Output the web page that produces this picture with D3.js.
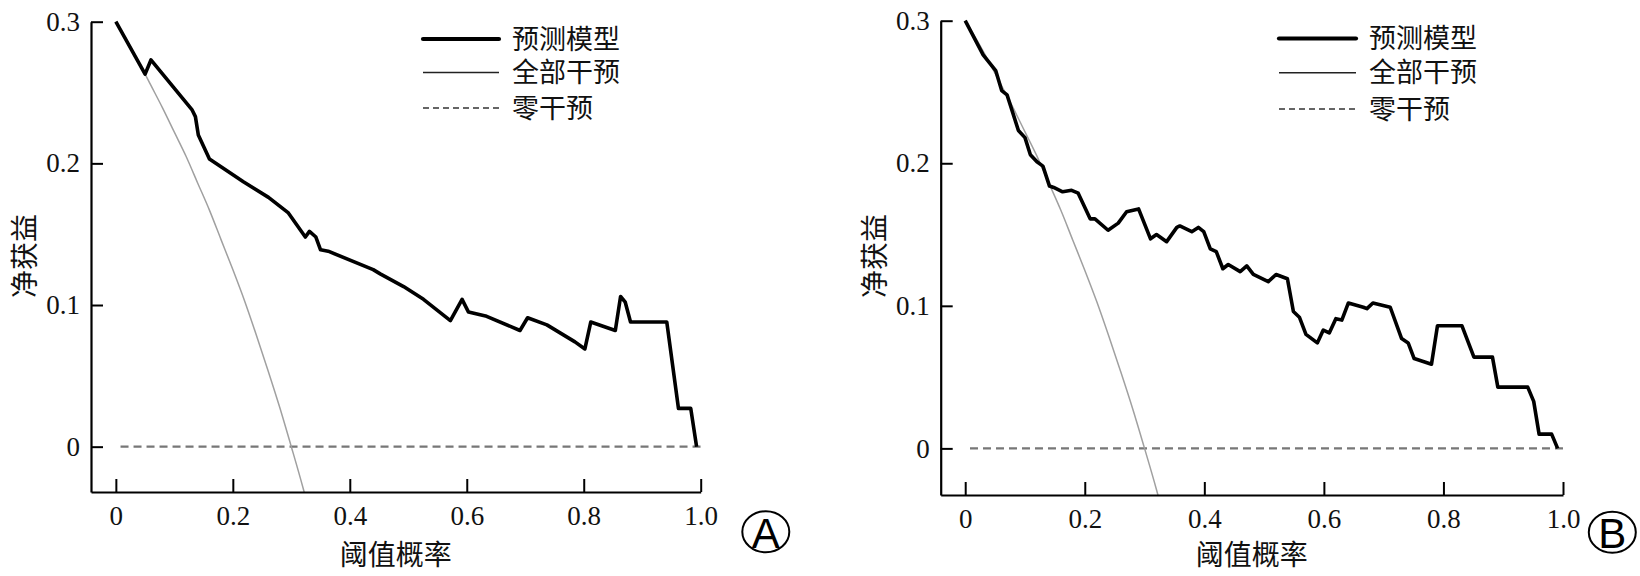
<!DOCTYPE html>
<html>
<head>
<meta charset="utf-8">
<script src="https://cdn.jsdelivr.net/npm/d3@7"></script>
<style>
  html, body { margin: 0; padding: 0; background: #fff; }
  svg { display: block; }
</style>
</head>
<body>
<svg id="chart" width="1640" height="576"></svg>
<script>
  // decision curve data
  const xTicks = [0, 0.2, 0.4, 0.6, 0.8, 1.0];
  const yTicks = [0, 0.1, 0.2, 0.3];
  const legendLabels = ['预测模型', '全部干预', '零干预'];
  const xTitle = '阈值概率';
  const yTitle = '净获益';

  // treat-all curve (same prevalence in both panels)
  const allX = [0, 0.02, 0.04, 0.06, 0.08, 0.10, 0.12, 0.14, 0.16, 0.18, 0.20, 0.22, 0.24, 0.26, 0.28, 0.30, 0.32, 0.34];
  const allY = [0.300, 0.286, 0.271, 0.255, 0.239, 0.222, 0.205, 0.186, 0.167, 0.146, 0.125, 0.103, 0.079, 0.054, 0.028, 0.000, -0.029, -0.061];

  // treat-none
  const noneX = [0.008, 1.0];
  const noneY = [0, 0];

  // panel A model
  const modelAX = [0, 0.050, 0.060, 0.130, 0.136, 0.141, 0.160, 0.218, 0.261, 0.295, 0.324, 0.331, 0.342, 0.350, 0.363, 0.440, 0.452, 0.492, 0.526, 0.572, 0.592, 0.603, 0.634, 0.691, 0.704, 0.737, 0.785, 0.802, 0.812, 0.854, 0.863, 0.871, 0.880, 0.942, 0.962, 0.983, 0.993];
  const modelAY = [0.300, 0.263, 0.273, 0.238, 0.233, 0.220, 0.203, 0.187, 0.176, 0.165, 0.148, 0.152, 0.148, 0.139, 0.138, 0.125, 0.122, 0.113, 0.104, 0.089, 0.104, 0.095, 0.092, 0.082, 0.091, 0.086, 0.074, 0.069, 0.088, 0.082, 0.106, 0.102, 0.088, 0.088, 0.027, 0.027, 0.000];

  // panel B model
  const modelBX = [0, 0.030, 0.051, 0.061, 0.070, 0.089, 0.100, 0.109, 0.120, 0.130, 0.141, 0.148, 0.163, 0.178, 0.189, 0.209, 0.217, 0.239, 0.256, 0.270, 0.290, 0.310, 0.320, 0.337, 0.354, 0.359, 0.379, 0.390, 0.399, 0.410, 0.420, 0.431, 0.440, 0.460, 0.471, 0.482, 0.507, 0.520, 0.539, 0.549, 0.559, 0.570, 0.589, 0.599, 0.609, 0.620, 0.630, 0.641, 0.666, 0.672, 0.682, 0.711, 0.730, 0.741, 0.751, 0.780, 0.790, 0.831, 0.851, 0.882, 0.891, 0.941, 0.951, 0.960, 0.981, 0.991];
  const modelBY = [0.300, 0.276, 0.265, 0.251, 0.248, 0.223, 0.218, 0.206, 0.201, 0.198, 0.184, 0.183, 0.180, 0.181, 0.179, 0.161, 0.161, 0.153, 0.158, 0.166, 0.168, 0.147, 0.150, 0.145, 0.155, 0.156, 0.152, 0.155, 0.152, 0.140, 0.138, 0.126, 0.129, 0.124, 0.128, 0.122, 0.117, 0.122, 0.119, 0.096, 0.092, 0.080, 0.074, 0.083, 0.081, 0.091, 0.090, 0.102, 0.099, 0.098, 0.102, 0.099, 0.077, 0.074, 0.063, 0.059, 0.086, 0.086, 0.064, 0.064, 0.043, 0.043, 0.033, 0.010, 0.010, 0.000];

  const SERIF = '"Liberation Serif", "Times New Roman", "DejaVu Serif", serif';
  const CJK = '"Noto Sans CJK SC", "Noto Sans CJK JP", sans-serif';

  const svg = d3.select('#chart');
  const zip = (xs, ys) => xs.map((x, i) => [x, ys[i]]);
  const fmt = d => d === 0 ? '0' : d.toFixed(1);

  function drawPanel(cfg) {
    const x = d3.scaleLinear().domain(cfg.xDomain).range(cfg.xRange);
    const y = d3.scaleLinear().domain(cfg.yDomain).range(cfg.yRange);
    const g = svg.append('g');

    const clipId = 'clip-' + cfg.id;
    g.append('clipPath').attr('id', clipId).append('rect')
      .attr('x', cfg.xRange[0]).attr('y', cfg.yRange[1] - 5)
      .attr('width', cfg.xRange[1] - cfg.xRange[0] + 10)
      .attr('height', cfg.yRange[0] - cfg.yRange[1] + 5);

    const line = d3.line().x(d => x(d[0])).y(d => y(d[1]));
    const plot = g.append('g').attr('clip-path', `url(#${clipId})`);

    plot.append('path').datum(zip(noneX, noneY))
      .attr('d', line).attr('fill', 'none')
      .attr('stroke', '#777').attr('stroke-width', 2.2)
      .attr('stroke-dasharray', '8,5');

    plot.append('path').datum(zip(allX, allY))
      .attr('d', d3.line().curve(d3.curveMonotoneX).x(d => x(d[0])).y(d => y(d[1])))
      .attr('fill', 'none').attr('stroke', '#a0a0a0').attr('stroke-width', 1.5);

    plot.append('path').datum(zip(cfg.mx, cfg.my))
      .attr('d', line).attr('fill', 'none')
      .attr('stroke', '#000').attr('stroke-width', 3.6)
      .attr('stroke-linejoin', 'round');

    // axes
    const xAxis = d3.axisBottom(x).tickValues(xTicks).tickFormat(fmt)
      .tickSize(-13).tickSizeOuter(0).tickPadding(14);
    const yAxis = d3.axisLeft(y).tickValues(yTicks).tickFormat(fmt)
      .tickSize(-12).tickSizeOuter(0).tickPadding(11);

    const gx = g.append('g').attr('transform', `translate(0,${cfg.yRange[0]})`).call(xAxis);
    const gy = g.append('g').attr('transform', `translate(${cfg.xRange[0]},0)`).call(yAxis);
    [gx, gy].forEach(a => {
      a.attr('font-family', SERIF).attr('font-size', 27);
      a.select('.domain').attr('stroke', '#000').attr('stroke-width', 2.2);
      a.selectAll('.tick line').attr('stroke', '#000').attr('stroke-width', 2);
      a.selectAll('.tick text').attr('fill', '#111')
        .style('font-family', SERIF).style('font-size', '27px');
    });

    // titles
    g.append('text')
      .attr('x', (cfg.xRange[0] + cfg.xRange[1]) / 2).attr('y', 565)
      .attr('text-anchor', 'middle')
      .style('font-family', CJK).style('font-size', '28px').attr('fill', '#111')
      .text(xTitle);
    g.append('text')
      .attr('transform', `translate(${cfg.xRange[0] - 56},${cfg.yTitleY}) rotate(-90)`)
      .attr('text-anchor', 'middle')
      .style('font-family', CJK).style('font-size', '28px').attr('fill', '#111')
      .text(yTitle);

    // legend
    const lg = g.append('g');
    const styles = [
      { w: 4.2, c: '#000', dash: null },
      { w: 1.6, c: '#222', dash: null },
      { w: 1.6, c: '#333', dash: '6,4' }
    ];
    legendLabels.forEach((lab, i) => {
      const ly = cfg.legY[i];
      lg.append('line')
        .attr('x1', cfg.legX0).attr('x2', cfg.legX1)
        .attr('y1', ly).attr('y2', ly)
        .attr('stroke', styles[i].c).attr('stroke-width', styles[i].w)
        .attr('stroke-linecap', i === 0 ? 'round' : 'butt')
        .attr('stroke-dasharray', styles[i].dash);
      lg.append('text')
        .attr('x', cfg.legX1 + 13).attr('y', ly + 9.5)
        .style('font-family', CJK).style('font-size', '27px').attr('fill', '#111')
        .text(lab);
    });

    // panel letter
    g.append('ellipse')
      .attr('cx', cfg.tag[0]).attr('cy', cfg.tag[1])
      .attr('rx', 23.5).attr('ry', 20.5)
      .attr('fill', 'none').attr('stroke', '#000').attr('stroke-width', 2);
    g.append('text')
      .attr('x', cfg.tag[0]).attr('y', cfg.tag[1] + 16)
      .attr('text-anchor', 'middle')
      .style('font-family', '"Liberation Sans", Arial, sans-serif').style('font-size', '42px')
      .text(cfg.id);
  }

  drawPanel({
    id: 'A', mx: modelAX, my: modelAY,
    xDomain: [-0.0425, 1], xRange: [91, 700.7],
    yDomain: [-0.032, 0.3], yRange: [492, 21.7],
    yTitleY: 256,
    legX0: 423, legX1: 499, legY: [39, 72.5, 108],
    tag: [765.8, 531.7]
  });

  drawPanel({
    id: 'B', mx: modelBX, my: modelBY,
    xDomain: [-0.041, 1], xRange: [940.7, 1563],
    yDomain: [-0.0327, 0.3], yRange: [495, 20.7],
    yTitleY: 256,
    legX0: 1279, legX1: 1356, legY: [38.5, 72.7, 109],
    tag: [1612.3, 532.2]
  });
</script>
</body>
</html>
